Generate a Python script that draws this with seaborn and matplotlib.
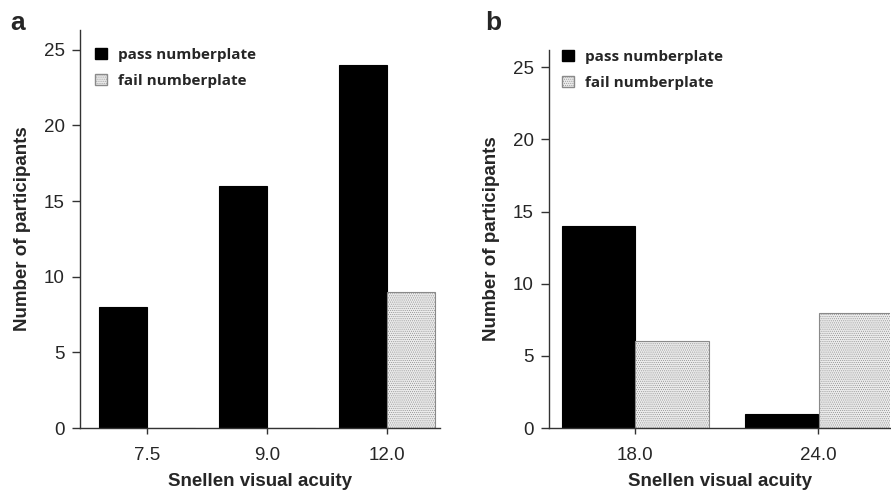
import pandas as pd
import matplotlib.pyplot as plt
import seaborn as sns
from matplotlib.patches import Patch

# panel a
acuity_a = ['7.5', '9.0', '12.0']
pass_a = [8, 16, 24]
fail_a = [0, 0, 9]

# panel b
acuity_b = ['18.0', '24.0']
pass_b = [14, 1]
fail_b = [6, 8]

groups = ['pass numberplate', 'fail numberplate']

sns.set_theme(style="ticks")
plt.rcParams['font.family'] = ['Liberation Sans', 'DejaVu Sans']
plt.rcParams['hatch.linewidth'] = 0.4

AXIS_COL = '#333333'
FAIL_FACE = '#ebebeb'
FAIL_EDGE = '#8a8a8a'

W, H = 891, 490


def make_frame(cats, p, f):
    return pd.DataFrame({
        'acuity': cats * 2,
        'group': [groups[0]] * len(cats) + [groups[1]] * len(cats),
        'n': p + f,
    })


def draw_panel(ax, df, cats, xlim, ylim, legend_xy):
    sns.barplot(data=df, x='acuity', y='n', hue='group', order=cats,
                hue_order=groups, palette={groups[0]: 'black', groups[1]: FAIL_FACE},
                width=0.8, dodge=True, ax=ax, legend=False)
    for bar in ax.containers[0]:
        bar.set_edgecolor('black')
        bar.set_linewidth(0.8)
    for bar in ax.containers[1]:
        bar.set_edgecolor(FAIL_EDGE)
        bar.set_hatch('........')
        bar.set_linewidth(0.8)

    ax.set_xlim(*xlim)
    ax.set_ylim(*ylim)
    ax.set_yticks([0, 5, 10, 15, 20, 25])
    sns.despine(ax=ax)
    for s in ['left', 'bottom']:
        ax.spines[s].set_color(AXIS_COL)
        ax.spines[s].set_linewidth(1.0)
    ax.tick_params(axis='y', length=6, width=1, color=AXIS_COL, labelsize=13.5, pad=5)
    ax.tick_params(axis='x', length=4, width=1, color=AXIS_COL, labelsize=13.5, pad=10)
    ax.set_xlabel('Snellen visual acuity', fontsize=13.5, fontweight='bold', labelpad=6)
    ax.set_ylabel('Number of participants', fontsize=13.5, fontweight='bold', labelpad=9)

    handles = [Patch(facecolor='black', edgecolor='black'),
               Patch(facecolor=FAIL_FACE, edgecolor=FAIL_EDGE, hatch='........')]
    ax.legend(handles, groups, loc='upper left',
              bbox_to_anchor=(legend_xy[0] / W, 1 - legend_xy[1] / H),
              bbox_transform=ax.figure.transFigure, borderpad=0, borderaxespad=0,
              frameon=False, handlelength=0.78, handleheight=0.78, handletextpad=0.7,
              labelspacing=0.75, prop={'family': 'Open Sans', 'weight': 'bold', 'size': 11})


fig = plt.figure(figsize=(8.91, 4.9), dpi=100)
ax_a = fig.add_axes([80 / W, 62 / H, 360 / W, 398 / H])
ax_b = fig.add_axes([549 / W, 62 / H, 341 / W, 378 / H])

draw_panel(ax_a, make_frame(acuity_a, pass_a, fail_a), acuity_a, (-0.56, 2.44), (0, 26.3), (95, 48))
draw_panel(ax_b, make_frame(acuity_b, pass_b, fail_b), acuity_b, (-0.47, 1.39), (0, 26.2), (562, 50))

fig.text(10 / W, 1 - 30 / H, 'a', fontsize=19, fontweight='bold', va='baseline')
fig.text(485 / W, 1 - 30 / H, 'b', fontsize=19, fontweight='bold', va='baseline')

fig.savefig('out.png', dpi=100)
